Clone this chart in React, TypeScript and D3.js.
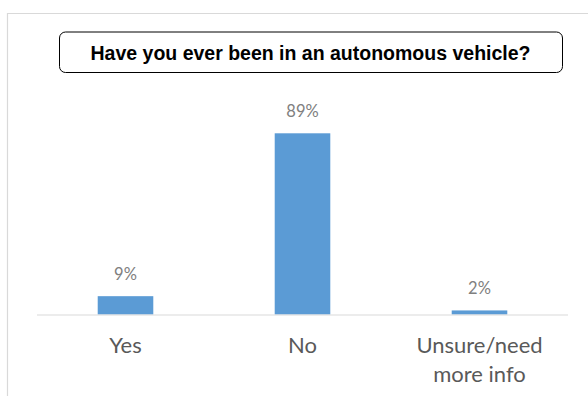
import React from "react";
import * as d3 from "d3";

const categories = ["Yes", "No", "Unsure/need\nmore info"];
const values = [9, 89, 2];
const valueLabels = ["9%", "89%", "2%"];
const title = "Have you ever been in an autonomous vehicle?";

const W = 588;
const H = 396;

export default function App() {
  const x = d3.scaleBand<number>().domain(d3.range(categories.length)).range([37, 568]).paddingInner(0.686).paddingOuter(0.343);
  const y = d3.scaleLinear().domain([0, 89]).range([314.5, 133.3]);
  return (
    <svg width={W} height={H} style={{ position: "absolute", left: 0, top: 0 }}>
      <rect x={0} y={0} width={W} height={H} fill="#fff" />
      <path d={`M7.5,${H} V13.5 H${W}`} fill="none" stroke="#d9d9d9" strokeWidth={1.2} />
      <rect x={59.5} y={32} width={503} height={40.5} rx={6} ry={6} fill="#fff" stroke="#000" strokeWidth={1} />
      <text x={310.5} y={60} textAnchor="middle" fontFamily="Liberation Sans, Arial" fontWeight="bold" fontSize={19.5} fill="#000">{title}</text>
      {values.map((v, i) => (
        <g key={i}>
          <rect x={x(i)} y={y(v)} width={x.bandwidth()} height={y(0) - y(v)} fill="#5b9bd5" />
          <text x={(x(i) as number) + x.bandwidth() / 2} y={y(v) - 16} textAnchor="middle" fontFamily="Lato, Open Sans, sans-serif" fontSize={16.5} fill="#808080">{valueLabels[i]}</text>
        </g>
      ))}
      <line x1={37} x2={568} y1={315} y2={315} stroke="#d9d9d9" strokeWidth={1.2} />
      {categories.map((c, i) => (
        <text key={i} x={(x(i) as number) + x.bandwidth() / 2} y={353} textAnchor="middle" fontFamily="Lato, Open Sans, sans-serif" fontSize={22} fill="#595959">
          {c.split("\n").map((line, j) => (
            <tspan key={j} x={(x(i) as number) + x.bandwidth() / 2} dy={j === 0 ? 0 : 29}>{line}</tspan>
          ))}
        </text>
      ))}
    </svg>
  );
}
